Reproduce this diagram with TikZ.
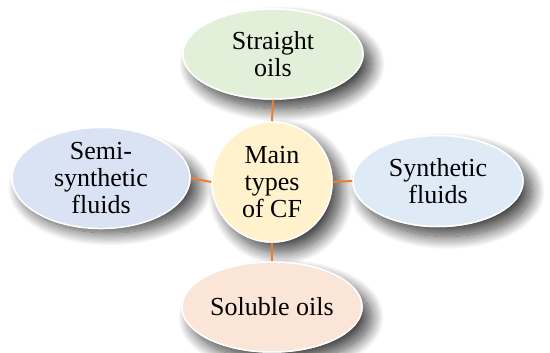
\documentclass[tikz,border=0pt]{standalone}
\usepackage{fontspec}
\setmainfont{Liberation Serif}
\usetikzlibrary{shapes.geometric,shadows.blur}
\definecolor{cfgreen}{HTML}{E2EFD9}
\definecolor{cfyellow}{HTML}{FFF2CC}
\definecolor{cfblueL}{HTML}{DAE3F3}
\definecolor{cfblueR}{HTML}{DEEBF7}
\definecolor{cfpeach}{HTML}{FBE5D6}
\definecolor{cforange}{HTML}{ED7D31}
\tikzset{
  bubble/.style={ellipse, draw=white, line width=1.5pt, inner sep=0pt, align=center,
    font=\fontsize{26}{27}\selectfont},
  hub/.style={circle, draw=white, line width=1.5pt, inner sep=0pt, align=center,
    minimum size=120pt, fill=cfyellow, font=\fontsize{26}{27}\selectfont},
  shade/.style={blur shadow={shadow xshift=9pt, shadow yshift=-10pt, shadow blur radius=13pt,
    shadow blur steps=24, shadow opacity=75}},
  link/.style={draw=cforange, line width=2pt}
}
\begin{document}
\begin{tikzpicture}[x=1pt,y=-1pt]
\useasboundingbox (0,0) rectangle (550,353);
% shadow pass
\node[bubble, shade, fill=white, minimum width=180pt, minimum height=90pt] (topS) at (273,54) {};
\node[bubble, shade, fill=white, minimum width=178pt, minimum height=90pt] (leftS) at (101,178) {};
\node[bubble, shade, fill=white, minimum width=170pt, minimum height=91pt] (rightS) at (438,181) {};
\node[bubble, shade, fill=white, minimum width=180pt, minimum height=90pt] (bottomS) at (272,307) {};
\node[hub, shade, fill=white] (hubS) at (272,182) {};
% nodes
\node[bubble, fill=cfgreen, minimum width=180pt, minimum height=90pt] (top) at (273,54) {Straight\\oils};
\node[bubble, fill=cfblueL, minimum width=178pt, minimum height=90pt] (left) at (101,178) {Semi-\\synthetic\\fluids};
\node[bubble, fill=cfblueR, minimum width=170pt, minimum height=91pt] (right) at (438,181) {Synthetic\\fluids};
\node[bubble, fill=cfpeach, minimum width=180pt, minimum height=90pt] (bottom) at (272,307) {Soluble oils};
\node[hub] (hub) at (272,182) {Main\\types\\of CF};
\draw[link] (hub.north) -- (top.south);
\draw[link] (hub.west) -- (left.east);
\draw[link] (hub.east) -- (right.west);
\draw[link] (hub.south) -- (bottom.north);
\end{tikzpicture}
\end{document}
